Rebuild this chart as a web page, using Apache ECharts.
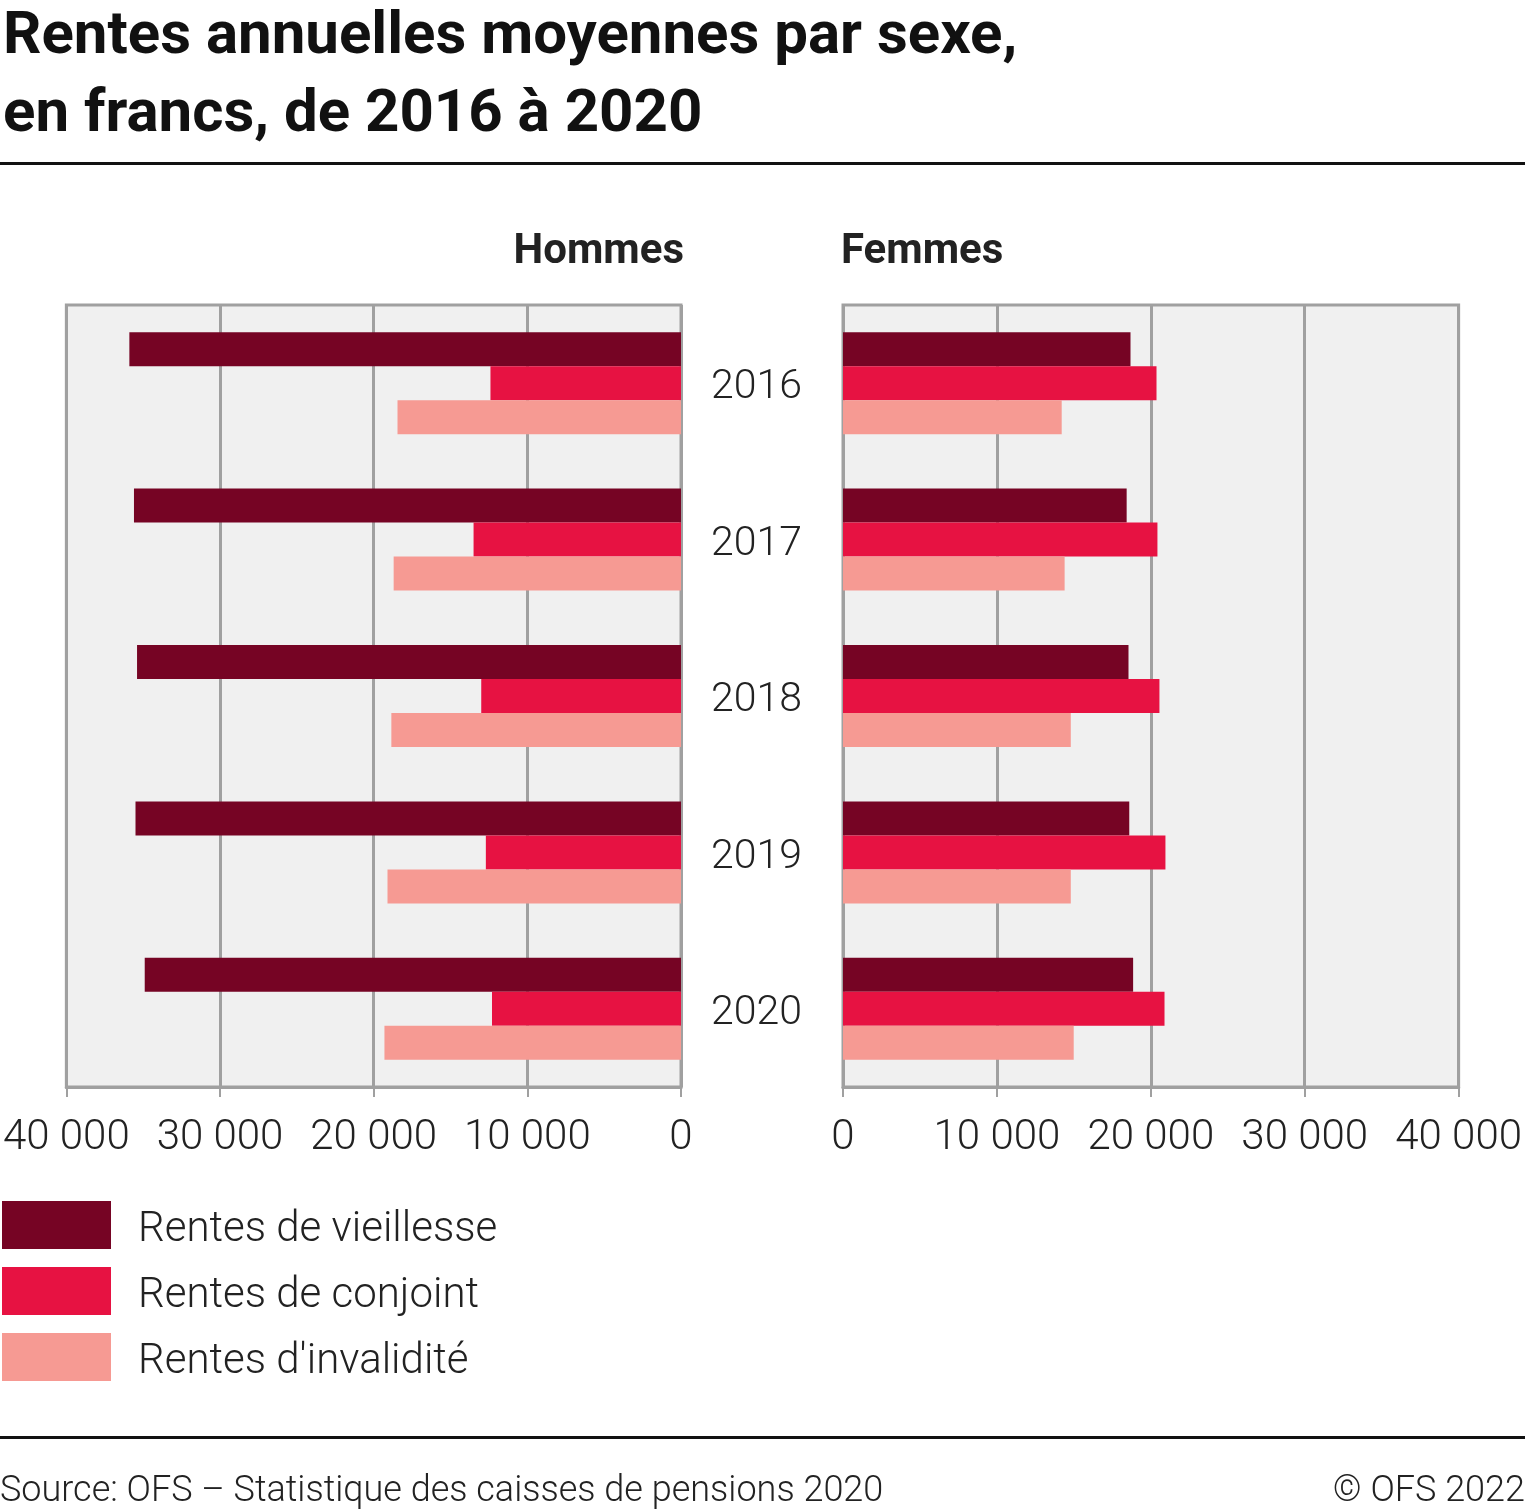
<!DOCTYPE html>
<html><head><meta charset="utf-8">
<script src="https://cdn.jsdelivr.net/npm/echarts@6/dist/echarts.min.js"></script>
<style>html,body{margin:0;padding:0;background:#fff}#c{width:1525px;height:1509px}</style>
</head><body><div id="c"></div>
<script>
const years = ['2016','2017','2018','2019','2020'];
const seriesNames = ['Rentes de vieillesse','Rentes de conjoint',"Rentes d'invalidité"];
const hommesVieillesse = [35900, 35600, 35400, 35500, 34900];
const hommesConjoint   = [12400, 13500, 13000, 12700, 12300];
const hommesInvalidite = [18450, 18700, 18850, 19100, 19300];
const femmesVieillesse = [18680, 18430, 18550, 18600, 18850];
const femmesConjoint   = [20370, 20430, 20560, 20950, 20890];
const femmesInvalidite = [14210, 14400, 14800, 14800, 14990];
const tickLabels = {0:'0',10000:'10 000',20000:'20 000',30000:'30 000',40000:'40 000'};

const colors = ['#760424','#e71242','#f69a93'];
const FONT = 'Roboto';
const gridLine = '#a0a0a0';

function xAx(idx, inverse){
  return {gridIndex: idx, type:'value', min:0, max:40000, interval:10000, inverse: inverse,
    axisLine:{show:true, lineStyle:{color:gridLine, width:3}},
    axisTick:{show:true, length:10, lineStyle:{color:gridLine, width:2}},
    splitLine:{show:true, lineStyle:{color:gridLine, width:3}},
    axisLabel:{formatter:v=>tickLabels[v], fontFamily:FONT, fontWeight:300, fontSize:42, color:'#222', margin:30}
  };
}
function yAx(idx, showLabels){
  return {gridIndex: idx, type:'category', data: years, inverse:true,
    position: showLabels ? 'right' : 'left',
    axisLine:{show:false}, axisTick:{show:false}, splitLine:{show:false},
    axisLabel:{show:showLabels, formatter:v=>'{v|'+v+'}', margin:30, align:'left',
      rich:{v:{fontFamily:FONT, fontWeight:300, fontSize:41, color:'#222', padding:[10,0,0,0]}}}
  };
}
function bars(name, data, gi, ci){
  return {name:name, type:'bar', xAxisIndex:gi, yAxisIndex:gi, data:data,
    barGap:'0%', barCategoryGap:'34.8%', itemStyle:{color:colors[ci]}, emphasis:{disabled:true}, silent:true};
}

const chart = echarts.init(document.getElementById('c'), null, {renderer:'canvas'});
chart.setOption({
  animation:false,
  backgroundColor:'#fff',
  title:[
    {text:'Rentes annuelles moyennes par sexe,\nen francs, de 2016 à 2020', left:-2, top:-6,
     textStyle:{fontFamily:FONT, fontWeight:'bold', fontSize:60, lineHeight:78, color:'#111'}},
    {text:'Hommes', right:1525-684, top:231, padding:0,
     textStyle:{fontFamily:FONT, fontWeight:'bold', fontSize:42, color:'#222'}},
    {text:'Femmes', left:841, top:231, padding:0,
     textStyle:{fontFamily:FONT, fontWeight:'bold', fontSize:42, color:'#222'}}
  ],
  legend:{orient:'vertical', left:2, top:1201, padding:0, itemWidth:109, itemHeight:48, itemGap:16,
    icon:'rect', data:seriesNames, selectedMode:false,
    formatter:n=>'{t|'+n+'}',
    textStyle:{fontFamily:FONT, fontWeight:300, fontSize:42, color:'#222', padding:[0,0,0,22],
      rich:{t:{fontFamily:FONT, fontWeight:300, fontSize:42, color:'#222', padding:[10,0,0,0]}}}},
  grid:[
    {left:65, top:305, width:616, height:782, show:true, backgroundColor:'#f0f0f0', borderColor:gridLine, borderWidth:3},
    {left:843, top:305, width:618, height:782, show:true, backgroundColor:'#f0f0f0', borderColor:gridLine, borderWidth:3}
  ],
  xAxis:[xAx(0,true), xAx(1,false)],
  yAxis:[yAx(0,true), yAx(1,false)],
  series:[
    bars(seriesNames[0], hommesVieillesse, 0, 0),
    bars(seriesNames[1], hommesConjoint, 0, 1),
    bars(seriesNames[2], hommesInvalidite, 0, 2),
    bars(seriesNames[0], femmesVieillesse, 1, 0),
    bars(seriesNames[1], femmesConjoint, 1, 1),
    bars(seriesNames[2], femmesInvalidite, 1, 2)
  ],
  graphic:[
    {type:'rect', shape:{x:0, y:162, width:1525, height:3}, style:{fill:'#111'}, silent:true},
    {type:'rect', shape:{x:0, y:1436, width:1525, height:3}, style:{fill:'#111'}, silent:true},
    {type:'text', left:0, top:1474, style:{text:'Source: OFS – Statistique des caisses de pensions 2020',
      font:'300 36px Roboto', fill:'#222'}},
    {type:'text', right:0, top:1474, style:{text:'© OFS 2022', font:'300 36px Roboto', fill:'#222'}}
  ]
});
</script></body></html>
